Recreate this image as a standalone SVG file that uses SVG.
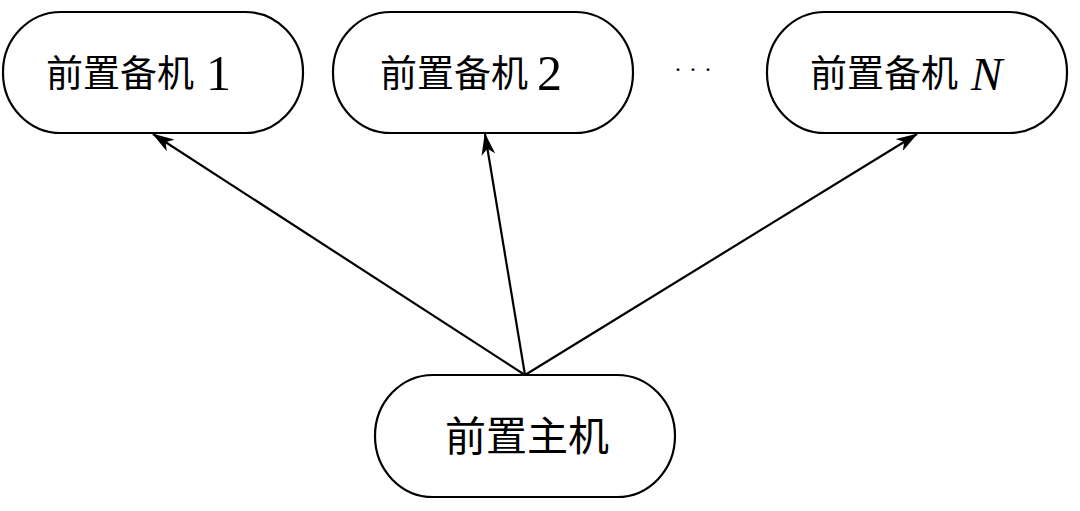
<svg xmlns="http://www.w3.org/2000/svg" width="1080" height="511" viewBox="0 0 1080 511">
<style>
.node{fill:#fff;stroke:#000;stroke-width:2.2}
.cjk{font-family:"Noto Sans CJK SC","Noto Sans",sans-serif;font-size:37px;fill:#000}
.lat{font-family:"Liberation Serif",serif;font-size:50px;fill:#000}
.edge{stroke:#000;stroke-width:2.2;fill:none;marker-end:url(#arr)}
</style>
<defs>
<marker id="arr" viewBox="0 0 22 14" refX="21" refY="7" markerWidth="22" markerHeight="14" markerUnits="userSpaceOnUse" orient="auto">
<path d="M0,0 L22,7 L0,14 L6,7 Z" fill="#000"/>
</marker>
</defs>
<g id="n1">
<rect class="node" x="3" y="12" width="300" height="121" rx="58" ry="60"/>
<text y="87"><tspan x="46" class="cjk">前置备机</tspan><tspan x="206" y="90" class="lat">1</tspan></text>
</g>
<g id="n2">
<rect class="node" x="333" y="12" width="300" height="121" rx="58" ry="60"/>
<text y="87"><tspan x="380" class="cjk">前置备机</tspan><tspan x="537" y="90" class="lat">2</tspan></text>
</g>
<g id="dots"><text x="674" y="77" class="lat" style="font-size:24px;letter-spacing:7px">···</text></g>
<g id="nN">
<rect class="node" x="767" y="12" width="300" height="121" rx="58" ry="60"/>
<text y="87"><tspan x="810" class="cjk">前置备机</tspan><tspan x="971" y="90" class="lat" font-style="italic" style="font-size:47px">N</tspan></text>
</g>
<g id="main">
<rect class="node" x="375" y="375" width="300" height="122" rx="58" ry="61"/>
<text x="527" y="451" text-anchor="middle" class="cjk" style="font-size:41px">前置主机</text>
</g>
<g id="edges">
<line class="edge" x1="525" y1="375" x2="153" y2="134"/>
<line class="edge" x1="525" y1="375" x2="485" y2="134"/>
<line class="edge" x1="525" y1="375" x2="917" y2="134"/>
</g>
</svg>
